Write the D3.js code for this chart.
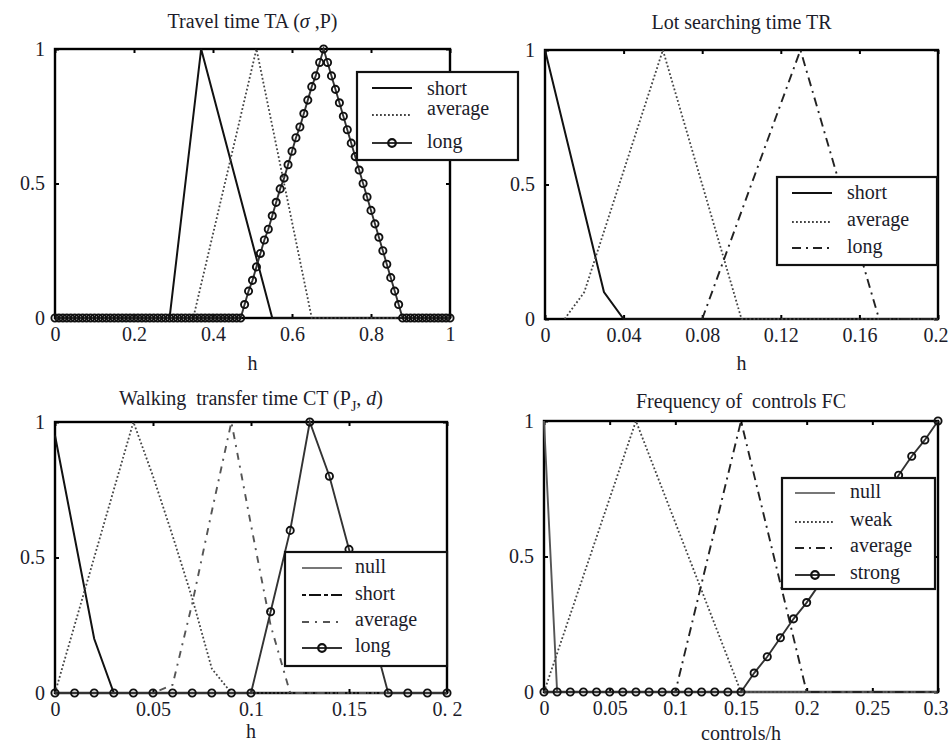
<!DOCTYPE html>
<html>
<head>
<meta charset="utf-8">
<script src="https://cdn.jsdelivr.net/npm/d3@7/dist/d3.min.js"></script>
<style>
body { margin: 0; background: #fff; }
svg text { font-family: "Liberation Serif", "DejaVu Serif", serif; fill: #1c1c2a; white-space: pre; }
</style>
</head>
<body>
<svg id="chart" width="949" height="746"></svg>
<script>

// ---- Travel time TA (x: h, 0..1) ----
var taTicks = [0, 0.2, 0.4, 0.6, 0.8, 1];
var taTickLabels = ['0', '0.2', '0.4', '0.6', '0.8', '1'];
var taShort = [[0, 0], [0.29, 0], [0.37, 1], [0.55, 0], [1, 0]];
var taAverage = [[0, 0], [0.35, 0], [0.51, 1], [0.65, 0], [1, 0]];
// long is sampled every 0.01 (one circle per sample)
var taLong = [
	0, 0, 0, 0, 0, 0, 0, 0, 0, 0,  0, 0, 0, 0, 0, 0, 0, 0, 0, 0,
	0, 0, 0, 0, 0, 0, 0, 0, 0, 0,  0, 0, 0, 0, 0, 0, 0, 0, 0, 0,
	0, 0, 0, 0, 0, 0, 0, 0, 0.05, 0.10, 0.14, 0.19, 0.24, 0.29, 0.33, 0.38, 0.43, 0.48, 0.52, 0.57,
	0.62, 0.67, 0.71, 0.76, 0.81, 0.86, 0.90, 0.95, 1.00, 0.95,
	0.90, 0.85, 0.80, 0.75, 0.70, 0.65, 0.60, 0.55, 0.50, 0.45,
	0.40, 0.35, 0.30, 0.25, 0.20, 0.15, 0.10, 0.05, 0, 0,
	0, 0, 0, 0, 0, 0, 0, 0, 0, 0, 0
];

// ---- Lot searching time TR (x: h, 0..0.2) ----
var trTicks = [0, 0.04, 0.08, 0.12, 0.16, 0.2];
var trTickLabels = ['0', '0.04', '0.08', '0.12', '0.16', '0.2'];
var trShort = [[0, 1], [0.03, 0.1], [0.04, 0], [0.2, 0]];
var trAverage = [[0.01, 0], [0.02, 0.1], [0.06, 1], [0.1, 0], [0.2, 0]];
var trLong = [[0.08, 0], [0.13, 1], [0.17, 0], [0.2, 0]];

// ---- Walking transfer time CT (x: h, 0..0.2) ----
var ctTicks = [0, 0.05, 0.1, 0.15, 0.2];
var ctTickLabels = ['0', '0.05', '0.1', '0.15', '0. 2'];
var ctNull = [[0, 0.95], [0.02, 0.2], [0.03, 0], [0.2, 0]];
var ctShort = [[0, 0], [0.04, 1], [0.05, 0.8], [0.06, 0.58], [0.07, 0.35], [0.08, 0.09], [0.09, 0], [0.2, 0]];
var ctAverage = [[0, 0], [0.05, 0], [0.06, 0.03], [0.07, 0.33], [0.08, 0.67], [0.09, 1], [0.1, 0.62], [0.11, 0.25], [0.12, 0], [0.2, 0]];
var ctLong = [0, 0, 0, 0, 0, 0, 0, 0, 0, 0, 0, 0.3, 0.6, 1, 0.8, 0.53, 0.27, 0, 0, 0, 0];

// ---- Frequency of controls FC (x: controls/h, 0..0.3) ----
var fcTicks = [0, 0.05, 0.1, 0.15, 0.2, 0.25, 0.3];
var fcTickLabels = ['0', '0.05', '0.1', '0.15', '0.2', '0.25', '0.3'];
var fcNull = [[0, 1], [0.01, 0], [0.3, 0]];
var fcWeak = [[0, 0], [0.07, 1], [0.15, 0], [0.3, 0]];
var fcAverage = [[0, 0], [0.1, 0], [0.15, 1], [0.2, 0], [0.3, 0]];
var fcStrong = [
	0, 0, 0, 0, 0, 0, 0, 0, 0, 0, 0, 0, 0, 0, 0, 0,
	0.07, 0.13, 0.2, 0.27, 0.33, 0.4, 0.47, 0.53, 0.6, 0.67, 0.73, 0.8, 0.87, 0.93, 1
];

var yTicks = [0, 0.5, 1];
var yTickLabels = ['0', '0.5', '1'];

// sampled series -> [x, y] pairs
function sampled(vals, step) {
	return vals.map(function (v, i) { return [i * step, v]; });
}

var styles = {
	solid:   { stroke: '#111', width: 2, dash: null },
	gray:    { stroke: '#555', width: 1.9, dash: null },
	lgray:   { stroke: '#777', width: 1.8, dash: null },
	dotted:  { stroke: '#444', width: 1.8, dash: '1.8,2.2' },
	dashdot: { stroke: '#222', width: 1.9, dash: '9,5,2,5' },
	dashdot2:{ stroke: '#111', width: 2, dash: '4,3,12,3' },
	dashdot3:{ stroke: '#555', width: 1.9, dash: '7,6,2,6' },
	marked:  { stroke: '#333', width: 1.9, dash: null, marker: true }
};

var panels = [
	{
		title: [{ t: 'Travel time TA (' }, { t: '\u03c3', i: true }, { t: ' ,P)' }],
		x0: 55, x1: 450, y0: 49, y1: 318, domain: [0, 1], ticks: taTicks, labels: taTickLabels,
		xlabel: 'h', xlabelY: 370, titleY: 28,
		series: [
			{ name: 'short', pts: taShort, style: 'solid' },
			{ name: 'average', pts: taAverage, style: 'dotted' },
			{ name: 'long', pts: sampled(taLong, 0.01), style: 'marked' }
		],
		legend: { x0: 357, y0: 72, x1: 518, y1: 160, lx0: 372, lx1: 412, tx: 427,
			rows: [[88, 89], [115, 109], [143, 142]] }
	},
	{
		title: [{ t: 'Lot searching time TR' }],
		x0: 545, x1: 938, y0: 50, y1: 319, domain: [0, 0.2], ticks: trTicks, labels: trTickLabels,
		xlabel: 'h', xlabelY: 370, titleY: 29,
		series: [
			{ name: 'short', pts: trShort, style: 'solid' },
			{ name: 'average', pts: trAverage, style: 'dotted' },
			{ name: 'long', pts: trLong, style: 'dashdot' }
		],
		legend: { x0: 777, y0: 177, x1: 937, y1: 265, lx0: 792, lx1: 832, tx: 847,
			rows: [[193, 193], [222, 220], [248, 247]] }
	},
	{
		title: [{ t: 'Walking  transfer time CT (P' }, { t: 'J', sub: true }, { t: ', ', up: true }, { t: 'd', i: true }, { t: ')' }],
		x0: 55, x1: 447, y0: 422, y1: 693, domain: [0, 0.2], ticks: ctTicks, labels: ctTickLabels,
		xlabel: 'h', xlabelY: 738, titleY: 405,
		series: [
			{ name: 'null', pts: ctNull, style: 'solid' },
			{ name: 'short', pts: ctShort, style: 'dotted' },
			{ name: 'average', pts: ctAverage, style: 'dashdot3' },
			{ name: 'long', pts: sampled(ctLong, 0.01), style: 'marked' }
		],
		legendStyles: ['lgray', 'dashdot2', 'dashdot3', 'marked'],
		legend: { x0: 285, y0: 552, x1: 447, y1: 666, lx0: 302, lx1: 342, tx: 355,
			rows: [[568, 567], [595, 594], [622, 620], [648, 646]] }
	},
	{
		title: [{ t: 'Frequency of  controls FC' }],
		x0: 544, x1: 938, y0: 421, y1: 692, domain: [0, 0.3], ticks: fcTicks, labels: fcTickLabels,
		xlabel: 'controls/h', xlabelY: 740, titleY: 408,
		series: [
			{ name: 'null', pts: fcNull, style: 'gray' },
			{ name: 'weak', pts: fcWeak, style: 'dotted' },
			{ name: 'average', pts: fcAverage, style: 'dashdot' },
			{ name: 'strong', pts: sampled(fcStrong, 0.01), style: 'marked' }
		],
		legendStyles: ['lgray', 'dotted', 'dashdot', 'marked'],
		legend: { x0: 782, y0: 478, x1: 935, y1: 589, lx0: 795, lx1: 835, tx: 850,
			rows: [[493, 492], [522, 520], [548, 546], [575, 573]] }
	}
];

var svg = d3.select('#chart');
var W = +svg.attr('width');
var FS = 20;
var FONT = '"Liberation Serif", "DejaVu Serif", serif';

function applyStyle(sel, st) {
	sel.attr('fill', 'none')
		.attr('stroke', st.stroke)
		.attr('stroke-width', st.width)
		.attr('stroke-dasharray', st.dash);
	return sel;
}

function drawPanel(p) {
	var g = svg.append('g');
	var x = d3.scaleLinear().domain(p.domain).range([p.x0, p.x1]);
	var y = d3.scaleLinear().domain([0, 1]).range([p.y1, p.y0]);

	// title
	var title = g.append('text')
		.attr('x', (p.x0 + p.x1) / 2)
		.attr('y', p.titleY)
		.attr('text-anchor', 'middle')
		.attr('font-family', FONT)
		.attr('font-size', FS);
	p.title.forEach(function (part) {
		var ts = title.append('tspan').text(part.t);
		if (part.i) ts.attr('font-style', 'italic');
		if (part.sub) ts.attr('font-size', FS * 0.7).attr('dy', 6);
		if (part.up) ts.attr('dy', -6);
	});

	// axes (ticks inside, MATLAB style)
	var bottom = g.append('g').attr('transform', 'translate(0,' + p.y1 + ')')
		.call(d3.axisBottom(x).tickValues(p.ticks).tickFormat(function (d, i) { return p.labels[i]; })
			.tickSizeInner(-4).tickSizeOuter(0).tickPadding(9));
	var top = g.append('g').attr('transform', 'translate(0,' + p.y0 + ')')
		.call(d3.axisTop(x).tickValues(p.ticks).tickFormat('').tickSizeInner(-4).tickSizeOuter(0));
	var left = g.append('g').attr('transform', 'translate(' + p.x0 + ',0)')
		.call(d3.axisLeft(y).tickValues(yTicks).tickFormat(function (d, i) { return yTickLabels[i]; })
			.tickSizeInner(-4).tickSizeOuter(0).tickPadding(10));
	var right = g.append('g').attr('transform', 'translate(' + p.x1 + ',0)')
		.call(d3.axisRight(y).tickValues(yTicks).tickFormat('').tickSizeInner(-4).tickSizeOuter(0));
	[bottom, top, left, right].forEach(function (a) {
		a.select('.domain').remove();
		a.attr('font-family', FONT).attr('font-size', FS);
		a.selectAll('line').attr('stroke', '#000').attr('stroke-width', 2);
		a.selectAll('text').attr('fill', '#1c1c2a');
	});
	// keep the last tick label inside the page
	bottom.selectAll('.tick').each(function (d) {
		var t = d3.select(this).select('text');
		var half = t.node().getComputedTextLength() / 2;
		var over = x(d) + half - (W - 1);
		if (over > 0) t.attr('x', -over);
	});

	// box
	g.append('rect')
		.attr('x', p.x0).attr('y', p.y0)
		.attr('width', p.x1 - p.x0).attr('height', p.y1 - p.y0)
		.attr('fill', 'none').attr('stroke', '#000').attr('stroke-width', 2.4);

	// x label
	g.append('text')
		.attr('x', (p.x0 + p.x1) / 2)
		.attr('y', p.xlabelY)
		.attr('text-anchor', 'middle')
		.attr('font-family', FONT)
		.attr('font-size', FS)
		.text(p.xlabel);

	// series
	var line = d3.line().x(function (d) { return x(d[0]); }).y(function (d) { return y(d[1]); });
	p.series.forEach(function (s) {
		var st = styles[s.style];
		applyStyle(g.append('path').datum(s.pts).attr('d', line), st);
		if (st.marker) {
			g.append('g').selectAll('circle').data(s.pts).join('circle')
				.attr('cx', function (d) { return x(d[0]); })
				.attr('cy', function (d) { return y(d[1]); })
				.attr('r', 3.6)
				.attr('fill', 'none')
				.attr('stroke', '#111')
				.attr('stroke-width', 1.9);
		}
	});

	// legend
	var L = p.legend;
	var lg = svg.append('g');
	lg.append('rect')
		.attr('x', L.x0).attr('y', L.y0)
		.attr('width', L.x1 - L.x0).attr('height', L.y1 - L.y0)
		.attr('fill', '#fff').attr('stroke', '#111').attr('stroke-width', 2.2);
	p.series.forEach(function (s, i) {
		var st = styles[p.legendStyles ? p.legendStyles[i] : s.style];
		var r = L.rows[i];
		applyStyle(lg.append('line')
			.attr('x1', L.lx0).attr('x2', L.lx1)
			.attr('y1', r[0]).attr('y2', r[0]), st);
		if (st.marker) {
			lg.append('circle')
				.attr('cx', (L.lx0 + L.lx1) / 2).attr('cy', r[0]).attr('r', 3.8)
				.attr('fill', 'none').attr('stroke', '#111').attr('stroke-width', 2.2);
		}
		lg.append('text')
			.attr('x', L.tx).attr('y', r[1])
			.attr('dy', '0.32em')
			.attr('font-family', FONT)
			.attr('font-size', FS)
			.text(s.name);
	});
}

panels.forEach(drawPanel);

</script>
</body>
</html>
